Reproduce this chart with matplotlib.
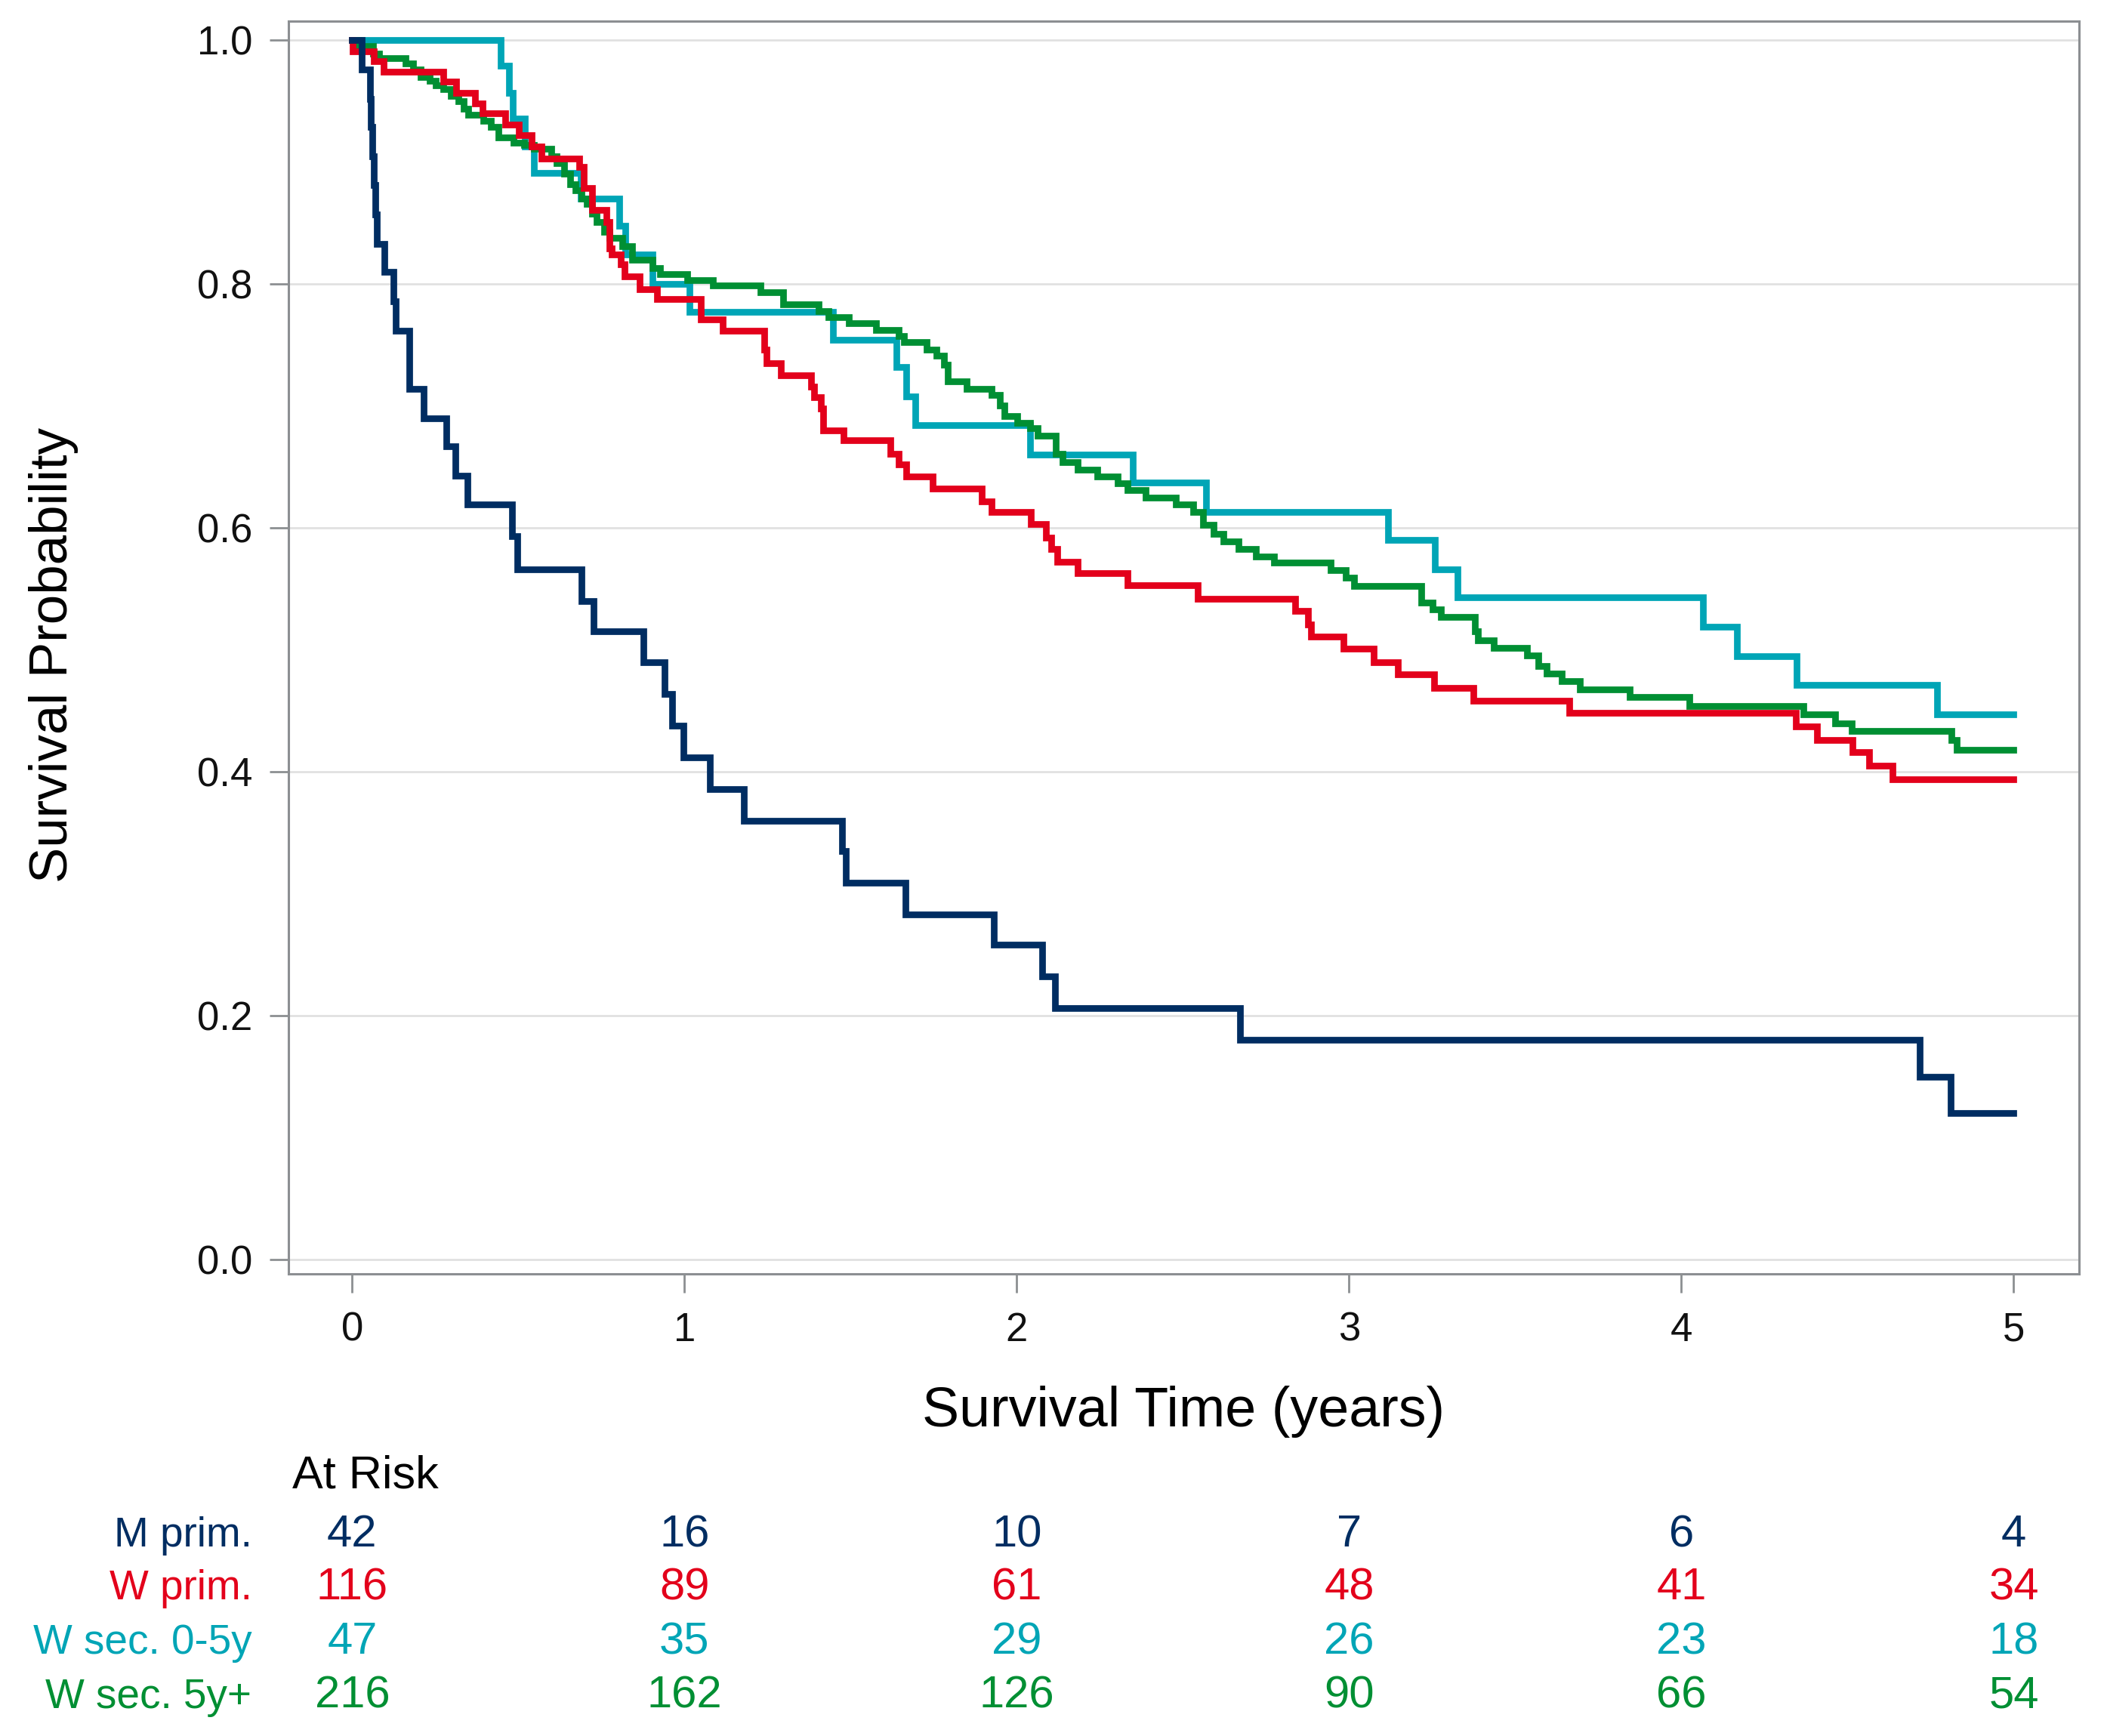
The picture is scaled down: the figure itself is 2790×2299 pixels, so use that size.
import matplotlib
matplotlib.use("Agg")
import matplotlib.pyplot as plt
import matplotlib.transforms as mtransforms

plt.rcParams['font.family'] = ['Liberation Sans', 'DejaVu Sans']

# Kaplan-Meier step data (time of drop in years, survival after the drop)
m_prim_t = [0, 0.028, 0.053, 0.057, 0.061, 0.065, 0.069, 0.0735, 0.096, 0.124, 0.131, 0.171,
            0.214, 0.283, 0.3115, 0.3465, 0.482, 0.498, 0.689, 0.726, 0.876, 0.941, 0.963,
            0.997, 1.077, 1.179, 1.475, 1.486, 1.666, 1.932, 2.076, 2.116, 2.672, 4.717, 4.811]
m_prim_s = [1.0, 0.976, 0.952, 0.929, 0.905, 0.881, 0.857, 0.833, 0.810, 0.786, 0.762, 0.714,
            0.690, 0.667, 0.643, 0.619, 0.593, 0.566, 0.540, 0.515, 0.490, 0.464, 0.438,
            0.412, 0.386, 0.360, 0.335, 0.309, 0.283, 0.258, 0.232, 0.206, 0.180, 0.150, 0.120]

w_prim_t = [0, 0.002, 0.066, 0.094, 0.274, 0.312, 0.369, 0.392, 0.46, 0.501, 0.539, 0.570,
            0.683, 0.698, 0.721, 0.766, 0.775, 0.782, 0.808, 0.82, 0.865, 0.918, 1.05, 1.115,
            1.240, 1.247, 1.289, 1.380, 1.39, 1.41, 1.418, 1.478, 1.619, 1.645, 1.668, 1.747,
            1.895, 1.925, 2.043, 2.088, 2.103, 2.122, 2.183, 2.334, 2.545, 2.837, 2.877, 2.885,
            2.983, 3.073, 3.146, 3.256, 3.374, 3.663, 4.344, 4.408, 4.515, 4.565, 4.635]
w_prim_s = [1.0, 0.991, 0.983, 0.974, 0.966, 0.957, 0.948, 0.940, 0.931, 0.922, 0.913, 0.903,
            0.896, 0.879, 0.861, 0.851, 0.829, 0.824, 0.816, 0.806, 0.796, 0.788, 0.771, 0.762,
            0.746, 0.735, 0.725, 0.716, 0.707, 0.698, 0.680, 0.672, 0.661, 0.652, 0.642, 0.632,
            0.622, 0.613, 0.603, 0.592, 0.583, 0.572, 0.563, 0.553, 0.542, 0.532, 0.521, 0.511,
            0.501, 0.490, 0.480, 0.469, 0.458, 0.448, 0.437, 0.426, 0.416, 0.405, 0.394]

w_sec05_t = [0, 0.448, 0.471, 0.4825, 0.520, 0.547, 0.687, 0.804, 0.823, 0.903, 1.016, 1.448,
             1.638, 1.668, 1.694, 2.041, 2.349, 2.569, 3.118, 3.258, 3.326, 4.065, 4.167,
             4.347, 4.770]
w_sec05_s = [1.0, 0.979, 0.957, 0.936, 0.913, 0.891, 0.870, 0.848, 0.824, 0.800, 0.777, 0.754,
             0.732, 0.708, 0.684, 0.660, 0.637, 0.613, 0.590, 0.566, 0.543, 0.519, 0.495,
             0.471, 0.447]

w_sec5p_t = [0, 0.0204, 0.0621, 0.081, 0.1606, 0.1833, 0.206, 0.2325, 0.2515, 0.2742, 0.2969,
             0.3196, 0.3348, 0.35, 0.3954, 0.418, 0.4408, 0.4863, 0.5165, 0.5468, 0.5999, 0.615,
             0.6377, 0.6567, 0.6718, 0.6907, 0.7059, 0.721, 0.7362, 0.7589, 0.774, 0.8119,
             0.8422, 0.9028, 0.9255, 1.009, 1.0845, 1.2286, 1.2967, 1.4027, 1.433, 1.4935,
             1.577, 1.645, 1.660, 1.7285, 1.7587, 1.7814, 1.7928, 1.8496, 1.925, 1.948, 1.963,
             2.001, 2.039, 2.062, 2.118, 2.137, 2.183, 2.243, 2.304, 2.334, 2.387, 2.478, 2.531,
             2.5615, 2.592, 2.622, 2.668, 2.7205, 2.7737, 2.945, 2.9895, 3.016, 3.2167, 3.251,
             3.277, 3.3795, 3.387, 3.436, 3.535, 3.569, 3.595, 3.641, 3.694, 3.845, 4.025,
             4.368, 4.4626, 4.512, 4.8126, 4.8277]
w_sec5p_s = [1.0, 0.995, 0.989, 0.9855, 0.981, 0.976, 0.970, 0.967, 0.963, 0.960, 0.9545,
             0.950, 0.944, 0.939, 0.934, 0.929, 0.920, 0.916, 0.914, 0.911, 0.905, 0.899,
             0.8905, 0.882, 0.877, 0.870, 0.866, 0.8575, 0.851, 0.843, 0.838, 0.831,
             0.820, 0.813, 0.808, 0.8034, 0.7987, 0.7935, 0.7832, 0.778, 0.7729, 0.7677,
             0.7625, 0.7574, 0.7522, 0.746, 0.741, 0.734, 0.720, 0.714, 0.709, 0.7006, 0.692,
             0.686, 0.682, 0.6758, 0.661, 0.654, 0.648, 0.642, 0.6365, 0.6313, 0.625, 0.619, 0.613,
             0.6025, 0.5953, 0.589, 0.583, 0.5767, 0.5716, 0.5653, 0.559, 0.5525, 0.539, 0.533,
             0.527, 0.515, 0.5075, 0.5014, 0.4952, 0.487, 0.4807, 0.4745, 0.4673, 0.461, 0.454,
             0.4471, 0.4394, 0.4332, 0.426, 0.4181]

end_time = 5.0

groups = ["M prim.", "W prim.", "W sec. 0-5y", "W sec. 5y+"]
colors = ["#002d62", "#e3001b", "#00a5b6", "#008f33"]

risk_times = [0, 1, 2, 3, 4, 5]
at_risk = [
    [42, 16, 10, 7, 6, 4],
    [116, 89, 61, 48, 41, 34],
    [47, 35, 29, 26, 23, 18],
    [216, 162, 126, 90, 66, 54],
]

curves = [(m_prim_t, m_prim_s), (w_prim_t, w_prim_s),
          (w_sec05_t, w_sec05_s), (w_sec5p_t, w_sec5p_s)]

fig = plt.figure(figsize=(27.9, 22.99), dpi=100)
ax = fig.add_axes([0.1368, 0.2663, 0.85, 0.7214])

frame_col = "#8c8f92"
for sp in ax.spines.values():
    sp.set_color(frame_col)
    sp.set_linewidth(2.2)

ax.grid(axis='y', color='#e1e1e1', linewidth=2.0)
ax.set_axisbelow(True)

# cyan underneath, then green, red, navy on top
for i in [2, 3, 1, 0]:
    t, s = curves[i]
    ax.step(list(t) + [end_time], list(s) + [s[-1]], where='post',
            color=colors[i], linewidth=6.3, solid_joinstyle='miter')

ax.set_xlim(-0.1924, 5.197)
ax.set_ylim(-0.0118, 1.0155)
ax.set_xticks(risk_times)
ax.set_yticks([0.0, 0.2, 0.4, 0.6, 0.8, 1.0])
ax.set_yticklabels(["0.0", "0.2", "0.4", "0.6", "0.8", "1.0"])
ax.tick_params(axis='both', direction='out', length=18, width=2.0,
               color=frame_col, labelsize=38, labelcolor='#111111')
ax.tick_params(axis='x', pad=18)
ax.tick_params(axis='y', pad=16)

xl = ax.set_xlabel("Survival Time (years)", fontsize=53)
xl.set_va('center')
ax.xaxis.set_label_coords(0.5, -0.110)
yl = ax.set_ylabel("Survival Probability", fontsize=51)
yl.set_va('center')
ax.yaxis.set_label_coords(-0.131, 0.494)

# at-risk table below the axes
tr = mtransforms.blended_transform_factory(ax.transData, fig.transFigure)
fig.text(0.1386, 0.1431, "At Risk", fontsize=44, ha='left', va='baseline', color='black')
row_y = [0.1090, 0.0786, 0.0474, 0.0162]
for i, g in enumerate(groups):
    fig.text(0.1195, row_y[i], g, fontsize=39.5, ha='right', va='baseline', color=colors[i])
    for x, n in zip(risk_times, at_risk[i]):
        ax.text(x, row_y[i], str(n), transform=tr, fontsize=43, ha='center',
                va='baseline', color=colors[i], clip_on=False)

fig.savefig("out.png", dpi=100, facecolor='white')
